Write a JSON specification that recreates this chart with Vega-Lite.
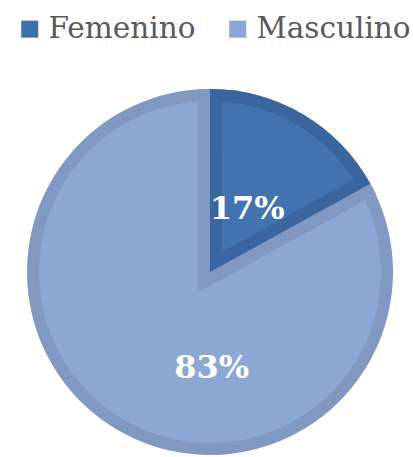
{
  "$schema": "https://vega.github.io/schema/vega-lite/v6.json",
  "autosize": "none",
  "padding": {"left": 7, "top": 87, "right": 0, "bottom": 0},
  "width": 406,
  "height": 370,
  "background": "#ffffff",
  "config": {"view": {"stroke": null}},
  "data": {"values": [
    {"genero": "Femenino", "valor": 0.17},
    {"genero": "Masculino", "valor": 0.83}
  ]},
  "transform": [{"stack": "valor", "groupby": [], "as": ["v0", "v1"]}],
  "layer": [
    {
      "mark": {"type": "arc", "radius": 183, "color": "#8198C3"},
      "encoding": {
        "theta": {"field": "v0", "type": "quantitative", "scale": {"domain": [0, 1]}},
        "theta2": {"field": "v1"}
      }
    },
    {
      "mark": {"type": "arc", "radius": 171},
      "encoding": {
        "theta": {"field": "v0", "type": "quantitative", "scale": {"domain": [0, 1]}},
        "theta2": {"field": "v1"},
        "color": {
          "field": "genero", "type": "nominal",
          "scale": {"domain": ["Femenino", "Masculino"], "range": ["#4070AC", "#8DA7D4"]},
          "legend": {
            "title": null, "orient": "none", "legendX": 8, "legendY": -73,
            "direction": "horizontal", "symbolType": "square", "symbolSize": 290,
            "symbolStrokeWidth": 0, "labelFont": "DejaVu Serif", "labelFontSize": 29.5,
            "labelColor": "#595959", "labelOffset": 4, "columnPadding": 27
          }
        }
      }
    },
    {
      "transform": [{"filter": "datum.genero === 'Femenino'"}],
      "mark": {"type": "arc", "radius": 171, "color": "#8198C3", "stroke": "#8198C3", "strokeWidth": 24, "strokeJoin": "miter"},
      "encoding": {
        "theta": {"field": "v0", "type": "quantitative", "scale": {"domain": [0, 1]}},
        "theta2": {"field": "v1"}
      }
    },
    {
      "transform": [{"filter": "datum.genero === 'Femenino'"}],
      "mark": {"type": "arc", "radius": 183, "color": "#3A659F"},
      "encoding": {
        "theta": {"field": "v0", "type": "quantitative", "scale": {"domain": [0, 1]}},
        "theta2": {"field": "v1"}
      }
    },
    {
      "transform": [{"filter": "datum.genero === 'Femenino'"}],
      "mark": {"type": "arc", "radius": 171, "radius2": 23, "padAngle": 0.1392, "color": "#4373AE"},
      "encoding": {
        "theta": {"field": "v0", "type": "quantitative", "scale": {"domain": [0, 1]}},
        "theta2": {"field": "v1"}
      }
    },
    {
      "mark": {"type": "text", "radius": 73, "font": "DejaVu Serif", "fontWeight": "bold", "fontSize": 32, "fill": "#ffffff", "align": "center", "baseline": "middle"},
      "encoding": {
        "theta": {"field": "valor", "type": "quantitative", "stack": true},
        "text": {"condition": {"test": "datum.genero === 'Femenino'", "field": "valor", "format": ".0%"}, "value": ""}
      }
    },
    {
      "mark": {"type": "text", "radius": 97, "dx": 51, "dy": 13, "font": "DejaVu Serif", "fontWeight": "bold", "fontSize": 32, "fill": "#ffffff", "align": "center", "baseline": "middle"},
      "encoding": {
        "theta": {"field": "valor", "type": "quantitative", "stack": true},
        "text": {"condition": {"test": "datum.genero === 'Masculino'", "field": "valor", "format": ".0%"}, "value": ""}
      }
    }
  ]
}
